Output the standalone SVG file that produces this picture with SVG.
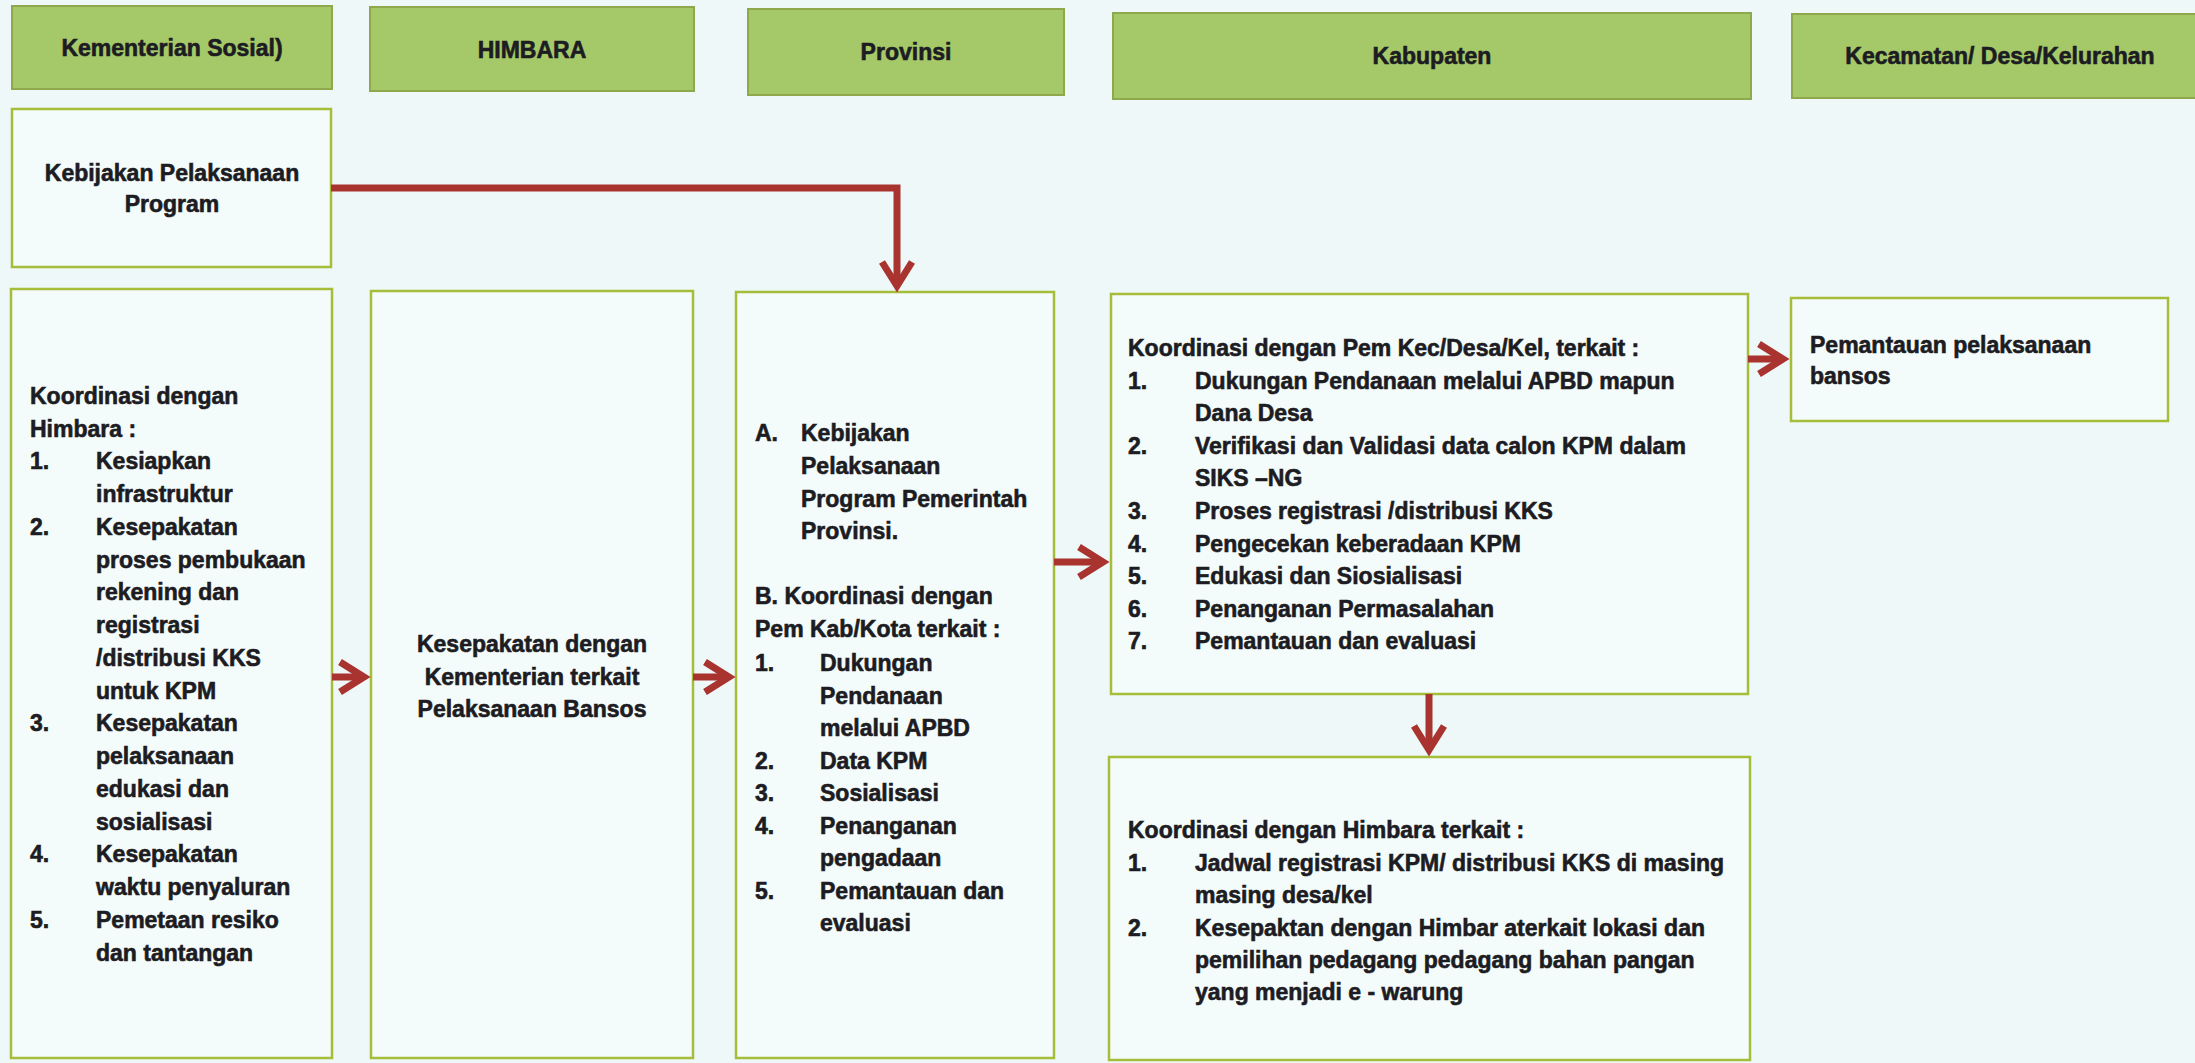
<svg xmlns="http://www.w3.org/2000/svg" width="2195" height="1063" viewBox="0 0 2195 1063">
<style>
.hdr{fill:#a5c968;stroke:#8fa84c;stroke-width:2}
.box{fill:#f4fbfb;stroke:#a6bd3a;stroke-width:2.5}
.t{font-family:"Liberation Sans",Arial,sans-serif;font-weight:bold;font-size:23px;fill:#1c1c22;stroke:#1c1c22;stroke-width:0.6}
.c{text-anchor:middle}
.conn{stroke:#a9332f;stroke-width:7;fill:none;stroke-linejoin:miter;marker-end:url(#ah)}
</style>
<defs>
<marker id="ah" markerUnits="userSpaceOnUse" viewBox="-34 -20 42 40" markerWidth="42" markerHeight="40" refX="0" refY="0" orient="auto" overflow="visible">
<path d="M-24,-15 L0,0 L-24,15" fill="none" stroke="#a9332f" stroke-width="7" stroke-linejoin="miter"/>
</marker>
</defs>
<rect x="0" y="0" width="2195" height="1063" fill="#eef8f8"/>

<g id="hdr-kemensos"><rect class="hdr" x="12" y="6" width="320" height="83"/><text class="t c" x="172" y="56">Kementerian Sosial)</text></g>
<g id="hdr-himbara"><rect class="hdr" x="370" y="7" width="324" height="84"/><text class="t c" x="532" y="58">HIMBARA</text></g>
<g id="hdr-provinsi"><rect class="hdr" x="748" y="9" width="316" height="86"/><text class="t c" x="906" y="60">Provinsi</text></g>
<g id="hdr-kabupaten"><rect class="hdr" x="1113" y="13" width="638" height="86"/><text class="t c" x="1432" y="64">Kabupaten</text></g>
<g id="hdr-kecamatan"><rect class="hdr" x="1792" y="14" width="420" height="84"/><text class="t c" x="2000" y="64">Kecamatan/ Desa/Kelurahan</text></g>

<g id="kebijakan"><rect class="box" x="12" y="109" width="319" height="158"/>
<text class="t c" x="172" y="181">Kebijakan Pelaksanaan</text>
<text class="t c" x="172" y="212">Program</text></g>

<g id="kemensos-koordinasi"><rect class="box" x="11" y="289" width="321" height="769"/>
<g class="t">
<text x="30" y="404">Koordinasi dengan</text>
<text x="30" y="437">Himbara :</text>
<text x="30" y="469">1.</text><text x="96" y="469">Kesiapkan</text>
<text x="96" y="502">infrastruktur</text>
<text x="30" y="535">2.</text><text x="96" y="535">Kesepakatan</text>
<text x="96" y="568">proses pembukaan</text>
<text x="96" y="600">rekening dan</text>
<text x="96" y="633">registrasi</text>
<text x="96" y="666">/distribusi KKS</text>
<text x="96" y="699">untuk KPM</text>
<text x="30" y="731">3.</text><text x="96" y="731">Kesepakatan</text>
<text x="96" y="764">pelaksanaan</text>
<text x="96" y="797">edukasi dan</text>
<text x="96" y="830">sosialisasi</text>
<text x="30" y="862">4.</text><text x="96" y="862">Kesepakatan</text>
<text x="96" y="895">waktu penyaluran</text>
<text x="30" y="928">5.</text><text x="96" y="928">Pemetaan resiko</text>
<text x="96" y="961">dan tantangan</text>
</g></g>

<g id="himbara-kesepakatan"><rect class="box" x="371" y="291" width="322" height="767"/>
<text class="t c" x="532" y="652">Kesepakatan dengan</text>
<text class="t c" x="532" y="685">Kementerian terkait</text>
<text class="t c" x="532" y="717">Pelaksanaan Bansos</text></g>

<g id="provinsi-box"><rect class="box" x="736" y="292" width="318" height="766"/>
<g class="t">
<text x="755" y="441">A.</text><text x="801" y="441">Kebijakan</text>
<text x="801" y="474">Pelaksanaan</text>
<text x="801" y="507">Program Pemerintah</text>
<text x="801" y="539">Provinsi.</text>
<text x="755" y="604">B. Koordinasi dengan</text>
<text x="755" y="637">Pem Kab/Kota terkait :</text>
<text x="755" y="671">1.</text><text x="820" y="671">Dukungan</text>
<text x="820" y="704">Pendanaan</text>
<text x="820" y="736">melalui APBD</text>
<text x="755" y="769">2.</text><text x="820" y="769">Data KPM</text>
<text x="755" y="801">3.</text><text x="820" y="801">Sosialisasi</text>
<text x="755" y="834">4.</text><text x="820" y="834">Penanganan</text>
<text x="820" y="866">pengadaan</text>
<text x="755" y="899">5.</text><text x="820" y="899">Pemantauan dan</text>
<text x="820" y="931">evaluasi</text>
</g></g>

<g id="kabupaten-kec"><rect class="box" x="1111" y="294" width="637" height="400"/>
<g class="t">
<text x="1128" y="356">Koordinasi dengan Pem Kec/Desa/Kel, terkait :</text>
<text x="1128" y="389">1.</text><text x="1195" y="389">Dukungan Pendanaan melalui APBD mapun</text>
<text x="1195" y="421">Dana Desa</text>
<text x="1128" y="454">2.</text><text x="1195" y="454">Verifikasi dan Validasi data calon KPM dalam</text>
<text x="1195" y="486">SIKS –NG</text>
<text x="1128" y="519">3.</text><text x="1195" y="519">Proses registrasi /distribusi KKS</text>
<text x="1128" y="552">4.</text><text x="1195" y="552">Pengecekan keberadaan KPM</text>
<text x="1128" y="584">5.</text><text x="1195" y="584">Edukasi dan Siosialisasi</text>
<text x="1128" y="617">6.</text><text x="1195" y="617">Penanganan Permasalahan</text>
<text x="1128" y="649">7.</text><text x="1195" y="649">Pemantauan dan evaluasi</text>
</g></g>

<g id="kabupaten-himbara"><rect class="box" x="1109" y="757" width="641" height="303"/>
<g class="t">
<text x="1128" y="838">Koordinasi dengan Himbara terkait :</text>
<text x="1128" y="871">1.</text><text x="1195" y="871">Jadwal registrasi KPM/ distribusi KKS di masing</text>
<text x="1195" y="903">masing desa/kel</text>
<text x="1128" y="936">2.</text><text x="1195" y="936">Kesepaktan dengan Himbar aterkait lokasi dan</text>
<text x="1195" y="968">pemilihan pedagang pedagang bahan pangan</text>
<text x="1195" y="1000">yang menjadi e - warung</text>
</g></g>

<g id="pemantauan"><rect class="box" x="1791" y="298" width="377" height="123"/>
<text class="t" x="1810" y="353">Pemantauan pelaksanaan</text>
<text class="t" x="1810" y="384">bansos</text></g>

<g id="connectors">
<path class="conn" d="M331,188 H897 V286"/>
<path class="conn" d="M332,677 H364"/>
<path class="conn" d="M693,677 H729"/>
<path class="conn" d="M1054,562 H1103"/>
<path class="conn" d="M1748,359 H1783"/>
<path class="conn" d="M1429,694 V750"/>
</g>
</svg>
